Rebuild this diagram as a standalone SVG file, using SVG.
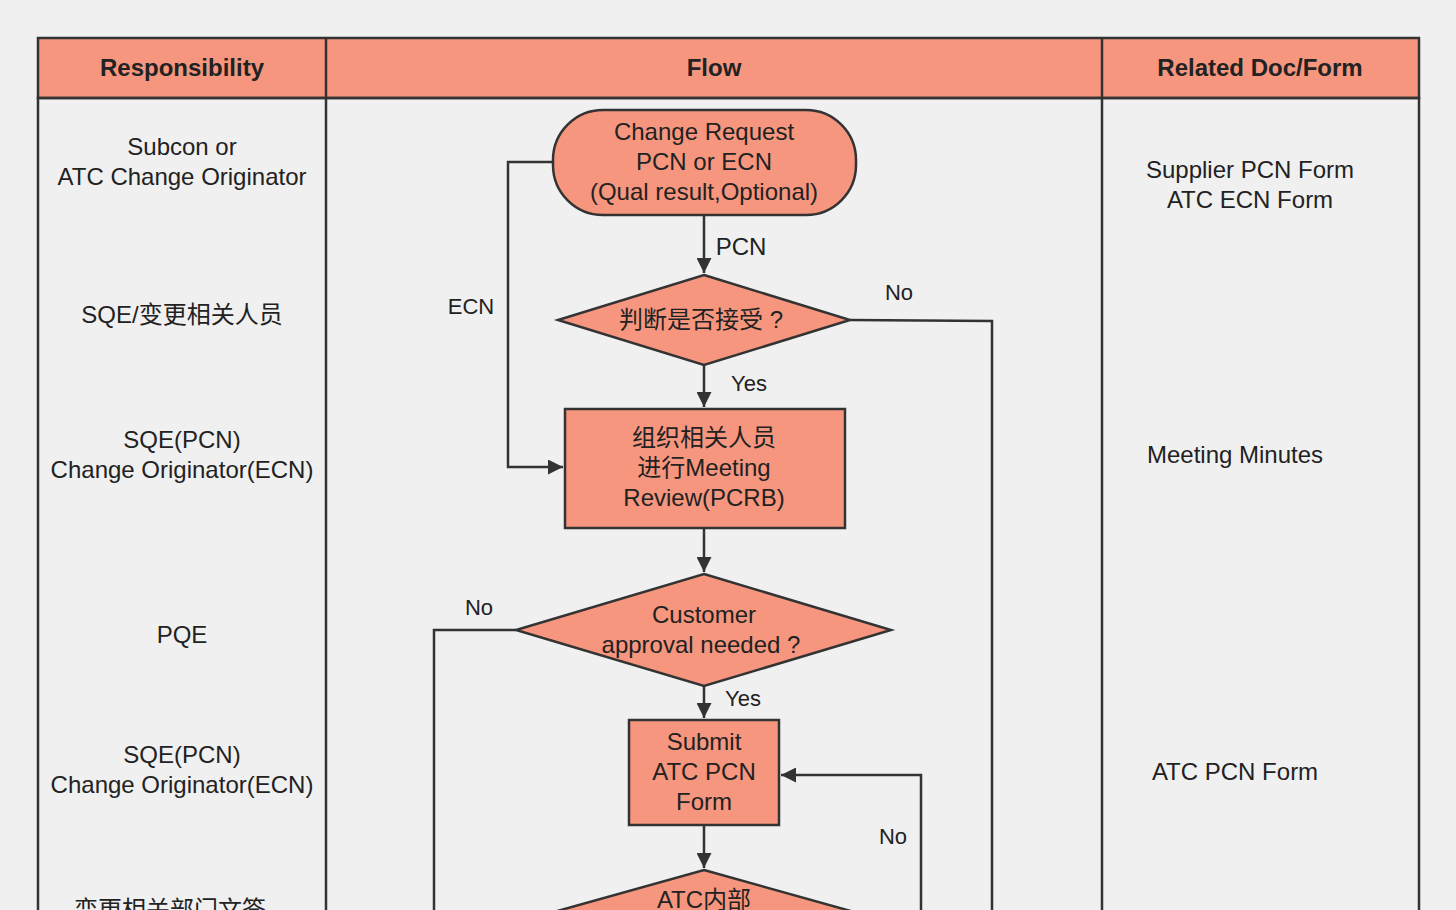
<svg xmlns="http://www.w3.org/2000/svg" width="1456" height="910" viewBox="0 0 1456 910">
<style>
.s{fill:#f7967e;stroke:#333;stroke-width:2.5}
.l{fill:none;stroke:#333;stroke-width:2.5}
text{font-family:"Liberation Sans","Noto Sans CJK SC",sans-serif;font-size:24px;fill:#222;text-anchor:middle}
.h{font-weight:bold}
.c{font-size:22px}
</style>
<defs><marker id="b" viewBox="0 0 10 10" refX="10" refY="5" markerWidth="6" markerHeight="6" orient="auto"><path d="M0,0L10,5L0,10z" fill="#333"/></marker></defs>
<rect width="1456" height="910" fill="#f0f0f0"/>
<g id="table">
<rect x="38" y="38" width="1381" height="60" class="s"/>
<rect x="38" y="98" width="1381" height="830" class="l"/>
<line x1="326" y1="38" x2="326" y2="920" class="l"/>
<line x1="1102" y1="38" x2="1102" y2="920" class="l"/>
<text x="182" y="76" class="h">Responsibility</text>
<text x="714" y="76" class="h">Flow</text>
<text x="1260" y="76" class="h">Related Doc/Form</text>
<text x="182" y="155">Subcon or</text><text x="182" y="185">ATC Change Originator</text>
<text x="182" y="323">SQE/变更相关人员</text>
<text x="182" y="448">SQE(PCN)</text><text x="182" y="478">Change Originator(ECN)</text>
<text x="182" y="643">PQE</text>
<text x="182" y="763">SQE(PCN)</text><text x="182" y="793">Change Originator(ECN)</text>
<text x="170" y="918">变更相关部门文签</text>
<text x="1250" y="178">Supplier PCN Form</text><text x="1250" y="208">ATC ECN Form</text>
<text x="1235" y="463">Meeting Minutes</text>
<text x="1235" y="780">ATC PCN Form</text>
</g>
<g id="connectors">
<path d="M704,215V273" class="l" marker-end="url(#b)"/>
<path d="M553,162H508V467H563" class="l" marker-end="url(#b)"/>
<path d="M850,320L992,321V920" class="l"/>
<path d="M704,365V407" class="l" marker-end="url(#b)"/>
<path d="M704,528V572" class="l" marker-end="url(#b)"/>
<path d="M516,630H434V920" class="l"/>
<path d="M704,686V718" class="l" marker-end="url(#b)"/>
<path d="M704,825V868" class="l" marker-end="url(#b)"/>
<path d="M921,920V775H781" class="l" marker-end="url(#b)"/>
<text x="741" y="255">PCN</text>
<text x="471" y="314" class="c">ECN</text>
<text x="899" y="300" class="c">No</text>
<text x="749" y="391" class="c">Yes</text>
<text x="479" y="615" class="c">No</text>
<text x="743" y="706" class="c">Yes</text>
<text x="893" y="844" class="c">No</text>
</g>
<g id="start"><rect x="553" y="110" width="303" height="105" rx="50" class="s"/>
<text x="704" y="140">Change Request</text><text x="704" y="170">PCN or ECN</text><text x="704" y="200">(Qual result,Optional)</text></g>
<g id="d1"><path d="M704,275L850,320L704,365L558,320Z" class="s"/><text x="701" y="328">判断是否接受 ?</text></g>
<g id="review"><rect x="565" y="409" width="280" height="119" class="s"/>
<text x="704" y="446">组织相关人员</text><text x="704" y="476">进行Meeting</text><text x="704" y="506">Review(PCRB)</text></g>
<g id="d2"><path d="M704,574L891,630L704,686L516,630Z" class="s"/><text x="704" y="623">Customer</text><text x="701" y="653">approval needed ?</text></g>
<g id="submit"><rect x="629" y="720" width="150" height="105" class="s"/>
<text x="704" y="750">Submit</text><text x="704" y="780">ATC PCN</text><text x="704" y="810">Form</text></g>
<g id="d3"><path d="M704,870L890,922L704,974L518,922Z" class="s"/><text x="704" y="908">ATC内部</text></g>
</svg>
